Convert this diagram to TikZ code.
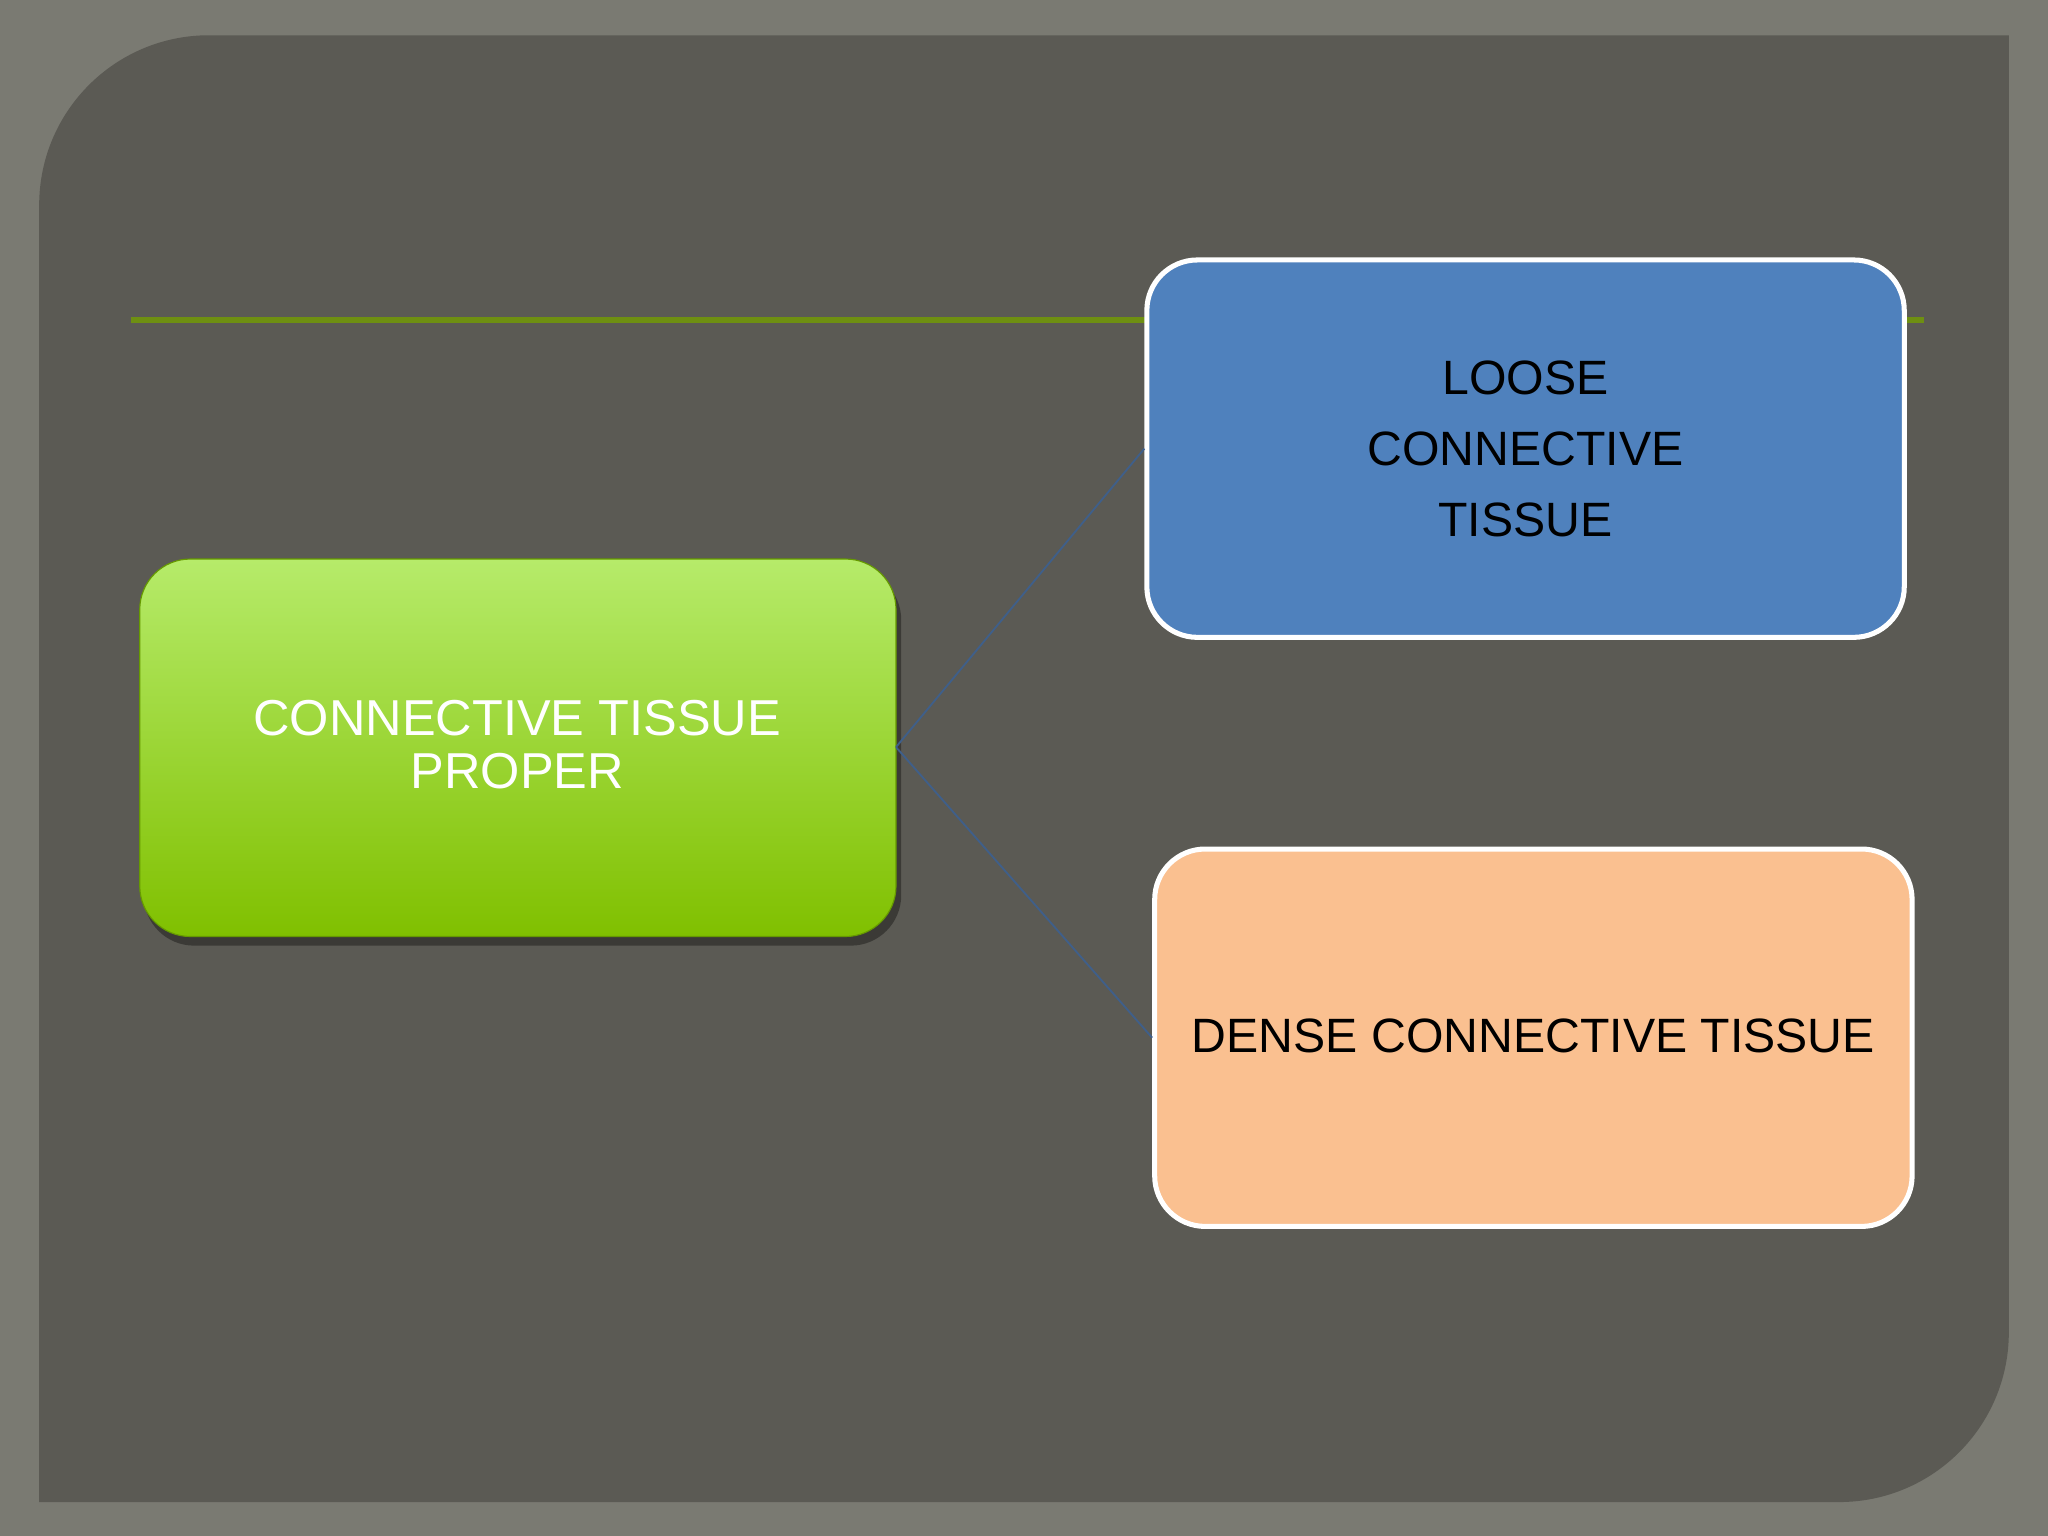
\documentclass[tikz,border=0pt]{standalone}
\usepackage{fontspec}
\setmainfont{Liberation Sans}
\definecolor{outer}{HTML}{7A7A72}
\definecolor{panel}{HTML}{5B5A54}
\definecolor{rule}{HTML}{6E8F12}
\definecolor{gtop}{HTML}{B6EB6A}
\definecolor{gbot}{HTML}{80C000}
\definecolor{bluebox}{HTML}{4F81BD}
\definecolor{orangebox}{HTML}{FAC090}
\definecolor{conn}{HTML}{3F5F8A}
\begin{document}
\begin{tikzpicture}[x=0.02cm,y=-0.02cm,
  box/.style={rounded corners=22, draw=white, line width=2.2pt, minimum width=11.6cm, minimum height=5.78cm, align=center, font=\fontsize{21}{28}\selectfont},
  link/.style={draw=conn, line width=0.8pt}]
\fill[outer] (0,0) rectangle (1568,1176);
\fill[panel] (30,1150) -- (30,157) arc[start angle=180, end angle=90, x radius=130, y radius=-130] -- (1538,27) -- (1538,1020) arc[start angle=0, end angle=-90, x radius=130, y radius=-130] -- cycle;
\draw[rule, line width=2.4pt] (100,245) -- (1473,245);
\fill[black, opacity=0.35, rounded corners=22] (110,436) rectangle (690,724);
\shade[top color=gtop, bottom color=gbot, rounded corners=22, draw=gbot!80!black, line width=0.5pt] (107,428) rectangle (686,717);
\node[text=white, align=center, font=\fontsize{22}{23}\selectfont] (proper) at (396,570) {CONNECTIVE TISSUE\\PROPER};
\coordinate (src) at (686,572);
\node[box, fill=bluebox, font=\fontsize{21}{28}\selectfont, text=black] (loose) at (1168,343.5) {LOOSE\\[0.1cm]CONNECTIVE\\[0.1cm]TISSUE};
\node[box, fill=orangebox, text=black] (dense) at (1174,794.5) {};
\node[font=\fontsize{21}{28}\selectfont] (densetext) at (1174,793) {DENSE CONNECTIVE TISSUE};
\draw[link] (src) -- (loose.west);
\draw[link] (src) -- (dense.west);
\end{tikzpicture}
\end{document}
